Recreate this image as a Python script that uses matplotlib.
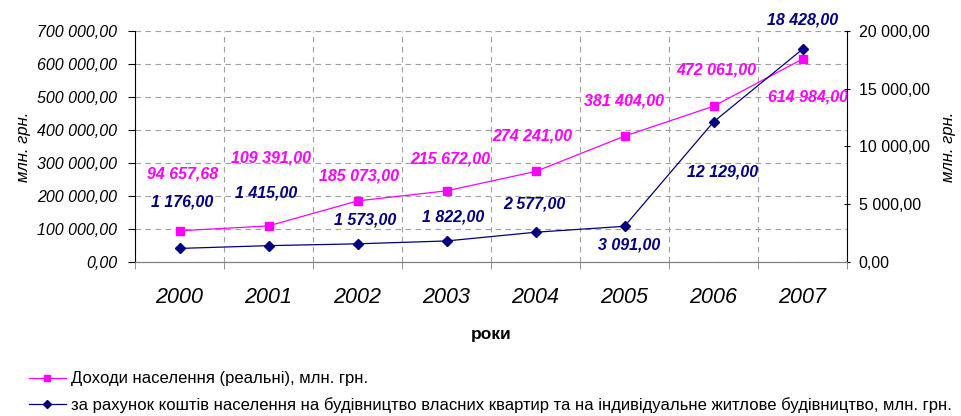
import matplotlib
matplotlib.use("Agg")
import matplotlib.pyplot as plt
from matplotlib.lines import Line2D
from matplotlib.ticker import FuncFormatter, MultipleLocator

plt.rcParams['font.family'] = ['Liberation Sans', 'DejaVu Sans']

years = ['2000', '2001', '2002', '2003', '2004', '2005', '2006', '2007']
income = [94657.68, 109391.00, 185073.00, 215672.00, 274241.00, 381404.00, 472061.00, 614984.00]
housing = [1176.00, 1415.00, 1573.00, 1822.00, 2577.00, 3091.00, 12129.00, 18428.00]

# label offsets in pixels (dx, dy)
income_off = [(3, 57), (2, 68), (1, 25), (4, 32), (-3, 35), (-1, 35), (3, 36), (5, -38)]
housing_off = [(3, 46), (-2, 53), (8, 24), (7, 24), (-1, 28), (5, -19), (9, -50), (0, 29)]

MAG = '#ff00ff'
NAVY = '#000080'


def fmt(v, dec=2):
    s = f"{v:,.{dec}f}"
    return s.replace(',', ' ').replace('.', ',')


fig = plt.figure(figsize=(9.61, 4.16), dpi=100)
ax = fig.add_axes([0.1405, 0.3702, 0.7409, 0.5553])
ax2 = ax.twinx()

x = list(range(len(years)))
ax.plot(x, income, color=MAG, lw=0.9, marker='s', ms=6, mec=MAG, mfc=MAG, zorder=3)
ax2.plot(x, housing, color=NAVY, lw=0.9, marker='D', ms=5.5, mec=NAVY, mfc=NAVY, zorder=3)

for i, v in enumerate(income):
    ax.annotate(fmt(v), (x[i], v), xytext=income_off[i], textcoords='offset pixels',
                ha='center', va='center', color=MAG, fontsize=11.5, fontweight='bold',
                fontstyle='italic')
for i, v in enumerate(housing):
    ax2.annotate(fmt(v), (x[i], v), xytext=housing_off[i], textcoords='offset pixels',
                 ha='center', va='center', color=NAVY, fontsize=11.5, fontweight='bold',
                 fontstyle='italic')

ax.set_xlim(-0.5, 7.5)
ax.set_ylim(0, 700000)
ax2.set_ylim(0, 20000)

ax.yaxis.set_major_locator(MultipleLocator(100000))
ax2.yaxis.set_major_locator(MultipleLocator(5000))
ax.yaxis.set_major_formatter(FuncFormatter(lambda v, p: fmt(v)))
ax2.yaxis.set_major_formatter(FuncFormatter(lambda v, p: fmt(v)))

ax.set_xticks(x)
ax.set_xticklabels(years)
ax.set_xticks([i + 0.5 for i in range(-1, 8)], minor=True)
ax.tick_params(axis='x', which='major', length=0, pad=18, labelsize=15.5)
ax.tick_params(axis='x', which='minor', length=5, color='#808080', direction='out')
for t in ax.get_xticklabels():
    t.set_fontstyle('italic')

ax.tick_params(axis='y', length=5, direction='out', labelsize=11.5, pad=8)
ax2.tick_params(axis='y', length=5, direction='inout', labelsize=11.5, pad=6)
for t in ax.get_yticklabels():
    t.set_fontstyle('italic')

ax.grid(True, axis='y', which='major', ls=(0, (5, 4)), color='#a0a0a0', lw=0.8)
ax.grid(True, axis='x', which='minor', ls=(0, (5, 4)), color='#a0a0a0', lw=0.8)
ax.set_axisbelow(True)

for a in (ax, ax2):
    a.spines['top'].set_visible(False)
    a.spines['bottom'].set_color('#808080')
ax2.spines['left'].set_visible(False)
ax.spines['right'].set_visible(False)
ax.spines['left'].set_color('black')
ax2.spines['right'].set_color('black')

ax.set_ylabel('млн. грн.', fontsize=12, fontstyle='italic', labelpad=4)
ax2.set_ylabel('млн. грн.', fontsize=12, fontstyle='italic', labelpad=8)
ax.set_xlabel('роки', fontsize=12.5, fontweight='bold', labelpad=14)

handles = [
    Line2D([], [], color=MAG, lw=0.9, marker='s', ms=5, mfc=MAG, mec=MAG),
    Line2D([], [], color=NAVY, lw=0.9, marker='D', ms=4.5, mfc=NAVY, mec=NAVY),
]
labels = [
    'Доходи населення (реальні), млн. грн.',
    'за рахунок коштів населення на будівництво власних квартир та на індивідуальне житлове будівництво, млн. грн.',
]
fig.legend(handles, labels, loc='lower left', bbox_to_anchor=(0.018, -0.02), frameon=False,
           fontsize=12, handlelength=2.2, labelspacing=0.62, handletextpad=0.3,
           borderaxespad=0.3)

fig.savefig('out.png', dpi=100)
